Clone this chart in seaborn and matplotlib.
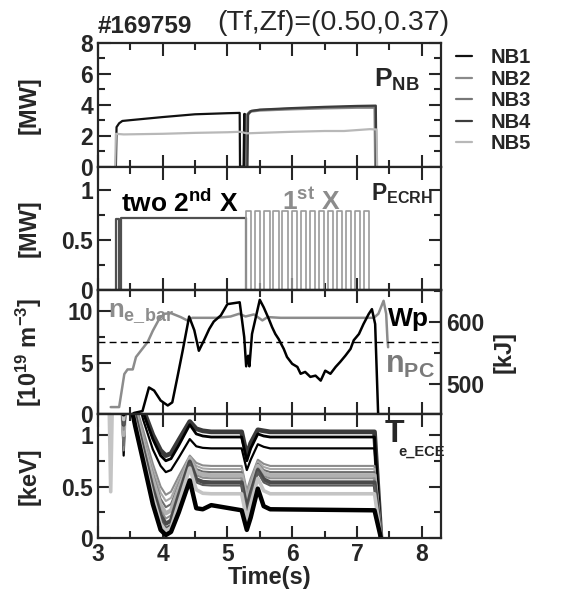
import numpy as np
import pandas as pd
import matplotlib
matplotlib.use("Agg")
import matplotlib.pyplot as plt
import seaborn as sns
from matplotlib.ticker import MultipleLocator
from matplotlib.lines import Line2D

# ---------------- data ----------------
# Panel 1 : NBI powers [MW]
nb1_t = [3.28, 3.29, 3.33, 3.38, 3.50, 4.00, 4.50, 5.00, 5.19, 5.195, 5.25, 5.26, 5.27, 5.28]
nb1_p = [0.00, 2.55, 2.80, 2.95, 3.00, 3.20, 3.38, 3.45, 3.47, 0.00, 0.00, 3.40, 3.40, 0.00]
nb2_t = [5.30, 5.31, 5.36, 5.50, 6.00, 6.50, 7.00, 7.27, 7.28]
nb2_p = [0.00, 3.30, 3.55, 3.62, 3.70, 3.76, 3.80, 3.80, 0.00]
nb3_t = [5.29, 5.30, 5.35, 5.50, 6.00, 6.50, 7.00, 7.28, 7.29]
nb3_p = [0.00, 3.35, 3.58, 3.66, 3.75, 3.82, 3.87, 3.88, 0.00]
nb4_t = [5.31, 5.32, 5.37, 5.50, 6.00, 6.50, 7.00, 7.29, 7.30]
nb4_p = [0.00, 3.40, 3.60, 3.68, 3.78, 3.86, 3.92, 3.94, 0.00]
nb5_t = [3.27, 3.28, 3.40, 4.00, 4.50, 5.00, 5.20, 5.30, 5.50, 6.00, 6.50, 6.80, 7.00, 7.20, 7.30, 7.31]
nb5_p = [0.00, 2.12, 2.08, 2.12, 2.18, 2.22, 2.25, 2.15, 2.18, 2.25, 2.30, 2.30, 2.36, 2.42, 2.40, 0.00]
nb_labels = ["NB1", "NB2", "NB3", "NB4", "NB5"]

# Panel 2 : ECRH powers [MW]
x2_on = [3.28, 3.36]
x2_off = [3.33, 5.29]
x2_h = [0.71, 0.72]
x1_on = [5.29, 5.43, 5.57, 5.71, 5.85, 5.99, 6.13, 6.27, 6.41, 6.55, 6.69, 6.83, 6.97, 7.11]
x1_off = [5.37, 5.51, 5.65, 5.79, 5.93, 6.07, 6.21, 6.35, 6.49, 6.63, 6.77, 6.91, 7.05, 7.19]
x1_h = 0.79

# Panel 3 : line density [1e19 m^-3] and stored energy [kJ]
ne_t = [3.20, 3.33, 3.41, 3.46, 3.54, 3.59, 3.67, 3.77, 3.85, 3.95, 4.03, 4.13, 4.28, 4.38,
        4.46, 4.85, 5.05, 5.18, 5.28, 5.41, 5.54, 5.62, 5.82, 7.26, 7.33, 7.41, 7.45, 7.47, 7.48]
ne_v = [0.70, 0.70, 3.90, 4.35, 4.35, 5.55, 6.20, 7.00, 8.10, 9.26, 9.74, 9.80, 9.42, 9.10,
        9.35, 9.35, 9.48, 9.74, 9.48, 9.68, 9.10, 9.42, 9.35, 9.35, 9.74, 11.0, 9.74, 7.20, 6.50]
npc_level = 7.0
wp_t = [3.51, 3.56, 3.69, 3.79, 3.87, 3.97, 4.08, 4.15, 4.23, 4.31, 4.41, 4.49, 4.56, 4.64,
        4.72, 4.79, 4.90, 5.00, 5.19, 5.26, 5.29, 5.32, 5.34, 5.38, 5.50, 5.56, 5.64, 5.69,
        5.74, 5.79, 5.87, 5.92, 6.00, 6.08, 6.13, 6.20, 6.28, 6.36, 6.44, 6.51, 6.59, 6.67,
        6.74, 6.82, 6.90, 6.95, 7.03, 7.10, 7.18, 7.23, 7.28, 7.33]
wp_v = [450, 454, 457, 495, 490, 474, 466, 471, 512, 554, 609, 587, 554, 571,
        589, 601, 611, 629, 632, 576, 529, 546, 529, 581, 636, 624, 605, 592,
        581, 573, 557, 544, 533, 528, 517, 520, 512, 514, 506, 522, 517, 528,
        536, 546, 557, 571, 581, 597, 613, 621, 597, 440]

# Panel 4 : ECE electron temperature channels [keV]
ece_t = [3.17, 3.20, 3.23, 3.36, 3.40, 3.44, 3.58, 3.70, 3.85, 3.97, 4.05, 4.13, 4.25,
         4.42, 4.52, 4.62, 4.75, 5.22, 5.30, 5.36, 5.47, 5.56, 5.66, 7.27, 7.37]
ece_ch01 = [1.5, 1.30, 1.5, 1.5, 1.15, 1.5, 1.50, 1.25, 1.00, 0.85, 0.80, 0.82, 0.95,
            1.13, 1.06, 1.04, 1.03, 1.03, 0.80, 0.92, 1.05, 1.04, 1.03, 1.03, 0.0]
ece_ch02 = [1.5, 1.30, 1.5, 1.5, 1.10, 1.5, 1.50, 1.22, 0.96, 0.80, 0.75, 0.77, 0.90,
            1.10, 1.01, 0.99, 0.98, 0.98, 0.75, 0.87, 1.01, 0.99, 0.98, 0.98, 0.0]
ece_ch03 = [1.5, 1.20, 1.5, 1.5, 0.80, 1.5, 1.45, 1.15, 0.86, 0.70, 0.64, 0.66, 0.78,
            0.96, 0.89, 0.875, 0.87, 0.87, 0.66, 0.76, 0.91, 0.885, 0.87, 0.87, 0.0]
ece_ch04 = [1.5, 1.10, 1.5, 1.5, 0.85, 1.5, 1.30, 1.05, 0.72, 0.50, 0.42, 0.45, 0.60,
            0.80, 0.73, 0.705, 0.70, 0.70, 0.46, 0.58, 0.76, 0.72, 0.70, 0.70, 0.0]
ece_ch05 = [1.5, 0.80, 1.5, 1.5, 0.95, 1.5, 1.27, 1.00, 0.67, 0.44, 0.36, 0.39, 0.56,
            0.79, 0.70, 0.675, 0.67, 0.67, 0.42, 0.55, 0.74, 0.69, 0.67, 0.67, 0.0]
ece_ch06 = [1.5, 1.10, 1.5, 1.5, 0.90, 1.5, 1.25, 0.97, 0.62, 0.38, 0.30, 0.33, 0.52,
            0.78, 0.67, 0.645, 0.64, 0.64, 0.38, 0.52, 0.72, 0.66, 0.64, 0.64, 0.0]
ece_ch07 = [1.5, 1.20, 1.5, 1.5, 1.00, 1.5, 1.22, 0.93, 0.57, 0.32, 0.24, 0.27, 0.48,
            0.77, 0.64, 0.615, 0.61, 0.61, 0.35, 0.49, 0.70, 0.63, 0.61, 0.61, 0.0]
ece_ch08 = [1.5, 0.70, 1.5, 1.5, 1.05, 1.5, 1.20, 0.90, 0.52, 0.27, 0.19, 0.22, 0.45,
            0.76, 0.61, 0.585, 0.58, 0.58, 0.32, 0.46, 0.68, 0.60, 0.58, 0.58, 0.0]
ece_ch09 = [1.5, 1.20, 1.5, 1.5, 1.10, 1.5, 1.18, 0.86, 0.47, 0.22, 0.14, 0.17, 0.41,
            0.74, 0.57, 0.545, 0.54, 0.54, 0.28, 0.43, 0.66, 0.57, 0.54, 0.54, 0.0]
ece_ch10 = [1.5, 1.25, 1.5, 1.5, 1.10, 1.5, 1.15, 0.83, 0.43, 0.18, 0.10, 0.13, 0.38,
            0.72, 0.54, 0.515, 0.51, 0.51, 0.25, 0.40, 0.64, 0.54, 0.51, 0.51, 0.0]
ece_ch11 = [1.5, 0.45, 1.5, 1.5, 1.15, 1.5, 1.12, 0.80, 0.40, 0.14, 0.07, 0.10, 0.34,
            0.68, 0.47, 0.435, 0.43, 0.43, 0.18, 0.33, 0.58, 0.46, 0.43, 0.43, 0.0]
ece_ch12 = [1.5, 1.25, 1.5, 1.5, 1.20, 1.5, 1.08, 0.75, 0.33, 0.08, 0.03, 0.06, 0.25,
            0.56, 0.29, 0.28, 0.32, 0.27, 0.08, 0.20, 0.48, 0.31, 0.28, 0.27, 0.0]

# ---------------- style ----------------
sns.set_style("ticks")
plt.rcParams["font.family"] = ["Liberation Sans", "DejaVu Sans"]
plt.rcParams["font.weight"] = "bold"
plt.rcParams["mathtext.fontset"] = "custom"
plt.rcParams["mathtext.rm"] = "Liberation Sans"
plt.rcParams["mathtext.bf"] = "Liberation Sans:bold"
plt.rcParams["mathtext.it"] = "Liberation Sans:italic"
plt.rcParams["axes.linewidth"] = 1.6

TICK = 16.5
LAB = 17

fig, axes = plt.subplots(4, 1, sharex=True, figsize=(5.65, 5.94), dpi=100,
                         gridspec_kw=dict(hspace=0))
fig.subplots_adjust(left=0.173, right=0.781, top=0.928, bottom=0.094)
ax1, ax2, ax3, ax4 = axes


def line(ax, x, y, color, lw=1.2, **kw):
    sns.lineplot(x=np.asarray(x, float), y=np.asarray(y, float), ax=ax, sort=False,
                 estimator=None, color=color, linewidth=lw, legend=False, **kw)


def style(ax, major, minor, right=True):
    ax.yaxis.set_major_locator(MultipleLocator(major))
    ax.yaxis.set_minor_locator(MultipleLocator(minor))
    ax.xaxis.set_major_locator(MultipleLocator(1))
    ax.xaxis.set_minor_locator(MultipleLocator(0.5))
    ax.tick_params(which="both", direction="in", top=True, right=right,
                   labelsize=TICK, width=1.5)
    ax.tick_params(which="major", length=9)
    ax.tick_params(which="minor", length=5)
    for lab in ax.get_yticklabels():
        lab.set_fontweight("bold")


def ylab(ax, text, x=-0.165):
    ax.set_ylabel(text, fontsize=LAB, fontweight="bold")
    ax.yaxis.set_label_coords(x, 0.5)


# ---- Panel 1
nb_cols = ["#111111", "#8a8a8a", "#777777", "#3c3c3c", "#b8b8b8"]
nb_t = [nb1_t, nb2_t, nb3_t, nb4_t, nb5_t]
nb_p = [nb1_p, nb2_p, nb3_p, nb4_p, nb5_p]
for t, p, c in zip(nb_t, nb_p, nb_cols):
    line(ax1, t, p, c, lw=1.6)
ax1.set_ylim(0, 8)
style(ax1, 2, 1)
ylab(ax1, "[MW]")
handles = [Line2D([0], [0], color=c, lw=1.6) for c in nb_cols]
ax1.legend(handles, nb_labels, loc="upper left", bbox_to_anchor=(1.02, 1.02),
           frameon=False, handlelength=0.8, handletextpad=0.9, labelspacing=0.12,
           borderaxespad=0, prop=dict(size=14.5, weight="bold"))
ax1.text(0.805, 0.70, r"$\mathbf{P}_{\mathbf{NB}}$", transform=ax1.transAxes,
         fontsize=19, ha="left", va="center")

# ---- Panel 2
for on, off, h in zip(x2_on, x2_off, x2_h):
    line(ax2, [on, on, off, off], [0, h, h, 0], "#505050", lw=1.6)
xs, ys = [], []
for on, off in zip(x1_on, x1_off):
    xs += [on, on, off, off]
    ys += [0, x1_h, x1_h, 0]
line(ax2, xs, ys, "#9a9a9a", lw=1.2)
ax2.set_ylim(0, 1.23)
style(ax2, 0.5, 0.25)
ax2.set_yticks([0, 0.5, 1])
ax2.set_yticklabels(["0", "0.5", "1"], fontweight="bold")
ylab(ax2, "[MW]")
ax2.text(0.067, 0.70, r"two 2$^{\mathbf{nd}}$ X", transform=ax2.transAxes,
         fontsize=19, ha="left", va="center", color="black")
ax2.text(0.535, 0.72, r"1$^{\mathbf{st}}$ X", transform=ax2.transAxes,
         fontsize=19, ha="left", va="center", color="#8c8c8c")
txt = ax2.text(0.795, 0.78, r"$\mathbf{P}_{\mathbf{ECRH}}$", transform=ax2.transAxes,
               fontsize=16.5, ha="left", va="center", zorder=10)
txt.set_clip_on(False)

# ---- Panel 3
line(ax3, ne_t, ne_v, "#8c8c8c", lw=1.8)
ax3.axhline(npc_level, color="black", lw=1.0, ls=(0, (5, 3)))
ax3.set_ylim(0, 12)
style(ax3, 5, 2.5, right=False)
ylab(ax3, r"[10$^{\mathbf{19}}$ m$^{\mathbf{-3}}$]", x=-0.155)
ax3r = ax3.twinx()
line(ax3r, wp_t, wp_v, "black", lw=1.8)
ax3r.set_ylim(451.8, 651)
ax3r.yaxis.set_major_locator(MultipleLocator(100))
ax3r.yaxis.set_minor_locator(MultipleLocator(50))
ax3r.tick_params(which="both", direction="in", labelsize=TICK, width=1.5)
ax3r.tick_params(which="major", length=9)
ax3r.tick_params(which="minor", length=5)
for lab in ax3r.get_yticklabels():
    lab.set_fontweight("bold")
ax3r.set_ylabel("[kJ]", fontsize=LAB, fontweight="bold", labelpad=6)
ax3.text(0.03, 0.82, r"$\mathbf{n}_{\mathbf{e\_bar}}$", transform=ax3.transAxes,
         fontsize=18.5, ha="left", va="center", color="#8c8c8c")
ax3.text(0.845, 0.77, "Wp", transform=ax3.transAxes, fontsize=19,
         ha="left", va="center", color="black", fontweight="bold")
ax3.text(0.835, 0.40, r"$\mathrm{n}_{\mathrm{PC}}$", transform=ax3.transAxes,
         fontsize=22, ha="left", va="center", color="#7a7a7a")

# ---- Panel 4
ece = [ece_ch01, ece_ch02, ece_ch03, ece_ch04, ece_ch05, ece_ch06,
       ece_ch07, ece_ch08, ece_ch09, ece_ch10, ece_ch11, ece_ch12]
ece_cols = ["#3a3a3a", "#000000", "#000000", "#8c8c8c", "#a8a8a8", "#6e6e6e",
            "#b0b0b0", "#909090", "#4a4a4a", "#5a5a5a", "#c4c4c4", "#000000"]
ece_lw = [3.4, 2.0, 1.6, 1.5, 1.5, 1.5, 3.0, 1.5, 3.0, 1.5, 2.6, 3.2]
for v, c, w in zip(ece, ece_cols, ece_lw):
    line(ax4, ece_t, v, c, lw=w)
ax4.set_ylim(0, 1.2)
style(ax4, 0.5, 0.25)
ax4.set_yticks([0, 0.5, 1])
ax4.set_yticklabels(["0", "0.5", "1"], fontweight="bold")
ylab(ax4, "[keV]")
ax4.text(0.835, 0.84, "T", transform=ax4.transAxes, fontsize=23,
         ha="left", va="center", fontweight="bold")
ax4.text(0.875, 0.70, "e_ECE", transform=ax4.transAxes, fontsize=10.5,
         ha="left", va="center", fontweight="bold")

ax4.set_xlim(3, 8.3)
ax4.set_xlabel("Time(s)", fontsize=LAB, fontweight="bold", labelpad=0)
for lab in ax4.get_xticklabels():
    lab.set_fontweight("bold")
for ax in (ax1, ax2, ax3):
    ax.tick_params(labelbottom=False)

fig.text(0.172, 0.955, "#169759", fontsize=17.5, fontweight="bold",
         ha="left", va="center")
fig.text(0.385, 0.962, "(Tf,Zf)=(0.50,0.37)", fontsize=20.5, fontweight="normal",
         ha="left", va="center")

fig.savefig("out.png", dpi=100)
